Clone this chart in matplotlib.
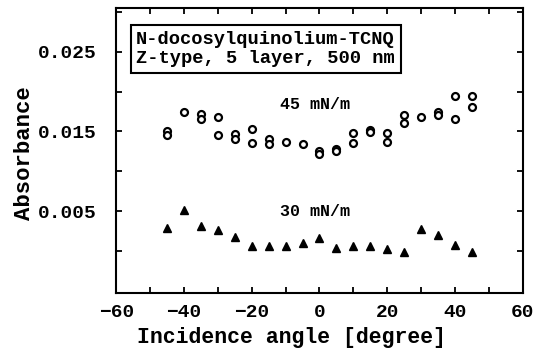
import matplotlib
matplotlib.use("Agg")
import matplotlib.pyplot as plt

# ==========================================
# DADOS
# ==========================================

# 45 mN/m (círculos abertos) - alguns ângulos têm dois pontos
angulos_45 = [-45, -45, -40, -35, -35, -30, -30, -25, -25, -20, -20,
              -15, -15, -10, -5, 0, 0, 5, 5, 10, 10, 15, 15, 20, 20,
              25, 25, 30, 35, 35, 40, 40, 45, 45]
absorb_45 = [0.0150, 0.0145, 0.0174, 0.0172, 0.0166, 0.0168, 0.0146,
             0.0147, 0.0141, 0.0153, 0.0135, 0.0140, 0.0134, 0.0137,
             0.0134, 0.0125, 0.0121, 0.0128, 0.0125, 0.0148, 0.0135,
             0.0152, 0.0149, 0.0148, 0.0137, 0.0171, 0.0160, 0.0168,
             0.0174, 0.0171, 0.0195, 0.0165, 0.0194, 0.0180]

# 30 mN/m (triângulos cheios)
angulos_30 = [-45, -40, -35, -30, -25, -20, -15, -10, -5, 0,
              5, 10, 15, 20, 25, 30, 35, 40, 45]
absorb_30 = [0.0029, 0.0051, 0.0031, 0.0026, 0.0017, 0.0006, 0.0006,
             0.0006, 0.0010, 0.0016, 0.0003, 0.0006, 0.0006, 0.0002,
             -0.0002, 0.0027, 0.0020, 0.0007, -0.0002]

rotulos_y = ["0.005", "0.015", "0.025"]
valores_y = [0.005, 0.015, 0.025]
valores_x = [-60, -40, -20, 0, 20, 40, 60]

fonte = "Liberation Mono"

fig = plt.figure(figsize=(5.48, 3.6), dpi=100)
ax = fig.add_axes([0.212, 0.186, 0.742, 0.792])

ax.plot(angulos_45, absorb_45, linestyle="none", marker="o", markersize=5,
        markerfacecolor="white", markeredgecolor="black", markeredgewidth=1.6)
ax.plot(angulos_30, absorb_30, linestyle="none", marker="^", markersize=5.5,
        color="black")

ax.set_xlim(-60, 60)
ax.set_ylim(-0.0053, 0.0305)

ax.set_xticks(valores_x)
ax.set_xticks(range(-50, 60, 20), minor=True)
ax.set_yticks(valores_y)
ax.set_yticklabels(rotulos_y)
ax.set_yticks([0.0, 0.01, 0.02, 0.03], minor=True)

ax.tick_params(which="both", direction="in", top=True, right=True,
               length=4, width=1.3)
ax.tick_params(axis="x", pad=8)
ax.tick_params(axis="y", pad=14)
for lbl in ax.get_xticklabels() + ax.get_yticklabels():
    lbl.set_fontfamily(fonte)
    lbl.set_fontweight("bold")
    lbl.set_fontsize(14)

for sp in ax.spines.values():
    sp.set_linewidth(1.5)

ax.set_xlabel("Incidence angle [degree]", fontfamily=fonte,
              fontweight="bold", fontsize=15.5)
ax.xaxis.set_label_coords(0.43, -0.12)
ax.set_ylabel("Absorbance", fontfamily=fonte,
              fontweight="bold", fontsize=16)
ax.yaxis.set_label_coords(-0.2, 0.491)

ax.text(-1.2, 0.0184, "45 mN/m", fontfamily=fonte, fontweight="bold",
        fontsize=12, ha="center", va="center")
ax.text(-1.2, 0.0050, "30 mN/m", fontfamily=fonte, fontweight="bold",
        fontsize=12, ha="center", va="center")

ax.text(-54.1, 0.02535, "N-docosylquinolium-TCNQ\nZ-type, 5 layer, 500 nm",
        fontfamily=fonte, fontweight="bold", fontsize=13.5, ha="left",
        va="center", linespacing=1.2,
        bbox=dict(boxstyle="square,pad=0.3", facecolor="white",
                  edgecolor="black", linewidth=1.5))

fig.savefig("out.png", dpi=100)
